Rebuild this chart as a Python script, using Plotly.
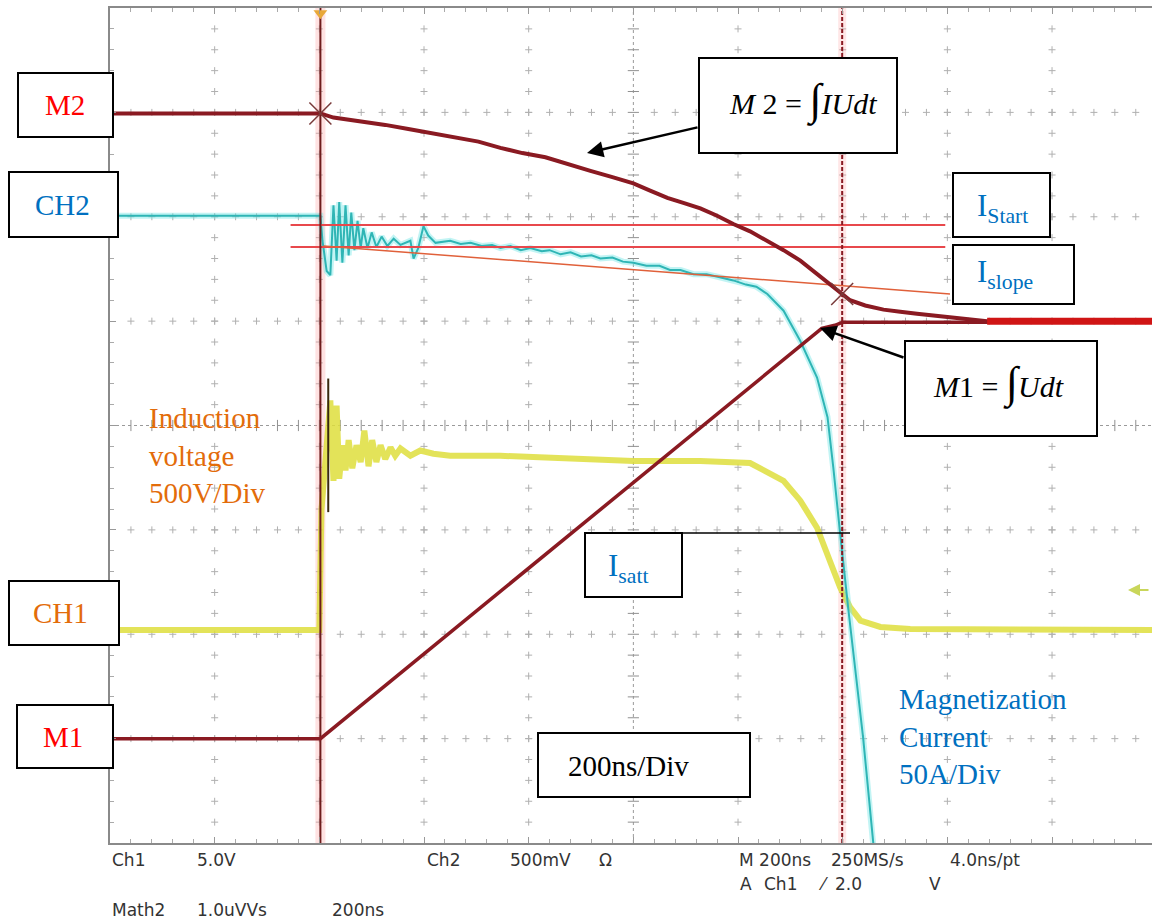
import plotly.graph_objects as go

# Oscilloscope screen: time in ns (200 ns/div), vertical in screen divisions
t_range = [-1000, 991]
v_range = [-4, 4]

trigger_t = -598
cursor_t = 399

# CH1 - induction voltage (yellow)
ch1_t = [-1000, -600, -596, -579, -573, -567, -562, -556, -550, -544,
         -537, -529, -521, -514, -506, -499, -491, -483, -474, -464,
         -455, -445, -426, -407, -382, -350, -254, -159, -63, 0,
         128, 223, 287, 319, 351, 382, 395, 414, 434, 472,
         529, 991]
ch1_v = [-1.96, -1.96, -0.81, 0.24, -0.53, 0.19, -0.51, -0.19, -0.43, -0.14,
         -0.41, -0.19, -0.35, -0.05, -0.39, -0.14, -0.35, -0.19, -0.32, -0.21,
         -0.29, -0.22, -0.29, -0.24, -0.27, -0.29, -0.29, -0.31, -0.32, -0.34,
         -0.34, -0.36, -0.53, -0.72, -0.98, -1.36, -1.55, -1.74, -1.87, -1.93,
         -1.95, -1.96]
ch1_edge_t = [-583, -583]
ch1_edge_v = [-0.83, 0.45]

# CH2 - magnetization current (cyan)
ch2_t = [-1000, -598, -594, -586, -579, -573, -567, -562, -556, -550,
         -544, -539, -533, -527, -521, -516, -508, -500, -491, -481,
         -470, -458, -445, -426, -420, -411, -401, -392, -378, -350,
         -330, -311, -290, -270, -254, -235, -215, -197, -175, -160,
         -139, -120, -100, -80, -63, -40, -20, 0, 25, 50,
         70, 90, 115, 140, 165, 191, 215, 235, 256, 287,
         319, 351, 371, 382, 395, 411, 439, 458, 470]
ch2_v = [2.01, 2.01, 1.77, 1.48, 1.44, 2.11, 1.58, 2.14, 1.56, 2.11,
         1.63, 2.04, 1.68, 1.96, 1.70, 1.89, 1.70, 1.85, 1.71, 1.81,
         1.72, 1.79, 1.73, 1.77, 1.60, 1.70, 1.91, 1.82, 1.75, 1.77,
         1.74, 1.75, 1.72, 1.73, 1.70, 1.72, 1.68, 1.70, 1.67, 1.68,
         1.64, 1.66, 1.62, 1.63, 1.60, 1.61, 1.57, 1.56, 1.53, 1.53,
         1.49, 1.49, 1.45, 1.45, 1.42, 1.39, 1.35, 1.33, 1.26, 1.10,
         0.81, 0.46, 0.08, -0.40, -1.03, -1.77, -2.99, -4.0, -4.6]

# Math traces
m1_t = [-1000, -598, 360, 385, 400, 991]
m1_v = [-3.0, -3.0, 0.93, 0.96, 0.99, 0.99]

m2_t = [-1000, -598, -573, -525, -474, -430, -384, -338, -296, -254,
        -212, -168, -124, -82, -40, 0, 32, 65, 97, 128,
        160, 191, 223, 256, 287, 319, 334, 351, 367, 384,
        399, 414, 443, 478, 510, 542, 676, 991]
m2_v = [2.99, 2.99, 2.95, 2.92, 2.88, 2.84, 2.80, 2.76, 2.72, 2.66,
        2.61, 2.57, 2.50, 2.44, 2.38, 2.32, 2.25, 2.18, 2.13, 2.08,
        2.01, 1.93, 1.86, 1.77, 1.68, 1.58, 1.52, 1.45, 1.39, 1.33,
        1.26, 1.20, 1.15, 1.11, 1.09, 1.07, 1.00, 1.00]
m_merge_t = [676, 991]
m_merge_v = [1.0, 1.0]

# Current cursors
istart_t = [-655, 596]
istart_v = [1.92, 1.92]
iref_t = [-655, 596]
iref_v = [1.71, 1.71]
islope_t = [-592, 605]
islope_v = [1.72, 1.26]
cross_t = [-598, 399]
cross_v = [2.99, 1.26]

DARK_RED = "#8a1a22"

fig = go.Figure()

# ---- graticule ----
major_t = [-800, -600, -400, -200, 200, 400, 600, 800]
major_v = [-3, -2, -1, 1, 2, 3]
minor_t = [k * 40 for k in range(-24, 25) if k != 0]
minor_v = [round(k * 0.2, 2) for k in range(-19, 20) if k != 0]

gx, gy = [], []
for t in major_t:
    for v in minor_v:
        gx.append(t)
        gy.append(v)
for v in major_v:
    for t in minor_t:
        gx.append(t)
        gy.append(v)
fig.add_trace(go.Scatter(x=gx, y=gy, mode="markers", hoverinfo="skip",
                         marker=dict(symbol="cross-thin", size=5, color="#b0b0b0",
                                     line=dict(width=1, color="#b0b0b0"))))
fig.add_trace(go.Scatter(x=minor_t, y=[0] * len(minor_t), mode="markers", hoverinfo="skip",
                         marker=dict(symbol="line-ns", size=8,
                                     line=dict(width=1, color="#909090"))))
fig.add_trace(go.Scatter(x=[0] * len(minor_v), y=minor_v, mode="markers", hoverinfo="skip",
                         marker=dict(symbol="line-ew", size=8,
                                     line=dict(width=1, color="#909090"))))

# ---- traces ----
fig.add_trace(go.Scatter(x=[trigger_t, trigger_t], y=v_range, mode="lines",
                         line=dict(color="rgba(255,160,160,0.30)", width=10), hoverinfo="skip"))
fig.add_trace(go.Scatter(x=[cursor_t, cursor_t], y=v_range, mode="lines",
                         line=dict(color="rgba(255,160,160,0.25)", width=8), hoverinfo="skip"))

fig.add_trace(go.Scatter(x=ch1_t, y=ch1_v, mode="lines",
                         line=dict(color="rgba(222,222,60,0.85)", width=6)))
fig.add_trace(go.Scatter(x=ch1_edge_t, y=ch1_edge_v, mode="lines",
                         line=dict(color="#3a2a10", width=2)))

fig.add_trace(go.Scatter(x=ch2_t, y=ch2_v, mode="lines",
                         line=dict(color="rgba(120,230,230,0.45)", width=6), hoverinfo="skip"))
fig.add_trace(go.Scatter(x=ch2_t, y=ch2_v, mode="lines",
                         line=dict(color="#2fb5b5", width=2)))

fig.add_trace(go.Scatter(x=istart_t, y=istart_v, mode="lines",
                         line=dict(color="#e8484c", width=2)))
fig.add_trace(go.Scatter(x=iref_t, y=iref_v, mode="lines",
                         line=dict(color="#e8484c", width=2)))
fig.add_trace(go.Scatter(x=islope_t, y=islope_v, mode="lines",
                         line=dict(color="#e0603a", width=1.5)))

fig.add_trace(go.Scatter(x=[trigger_t, trigger_t], y=v_range, mode="lines",
                         line=dict(color="#6e1c1c", width=2)))
fig.add_trace(go.Scatter(x=[cursor_t, cursor_t], y=v_range, mode="lines",
                         line=dict(color=DARK_RED, width=2, dash="4px,2px")))

fig.add_trace(go.Scatter(x=m1_t, y=m1_v, mode="lines",
                         line=dict(color=DARK_RED, width=3.5)))
fig.add_trace(go.Scatter(x=m2_t, y=m2_v, mode="lines",
                         line=dict(color=DARK_RED, width=4)))
fig.add_trace(go.Scatter(x=m_merge_t, y=m_merge_v, mode="lines",
                         line=dict(color="#d01515", width=7)))

fig.add_trace(go.Scatter(x=cross_t, y=cross_v, mode="markers",
                         marker=dict(symbol="x-thin", size=22,
                                     line=dict(width=1.5, color="#7a3a3a"))))

# trigger position marker on top edge
fig.add_trace(go.Scatter(x=[trigger_t], y=[3.95], mode="markers", cliponaxis=False,
                         marker=dict(symbol="triangle-down", size=12, color="#e8a838")))

# ---- layout helpers (pixel -> paper) ----
PX_L, PX_T, PX_W, PX_H = 110, 8, 1042, 835


def px(x):
    return (x - PX_L) / PX_W


def py(y):
    return 1 - (y - PX_T) / PX_H


shapes = []
boxes = [
    (18, 73, 113, 137), (9, 172, 118, 237), (9, 581, 119, 645), (17, 705, 113, 768),
    (699, 58, 897, 153), (953, 173, 1050, 237), (953, 245, 1074, 304),
    (905, 341, 1097, 436), (585, 533, 682, 597), (538, 733, 750, 797),
]
for x0, y0, x1, y1 in boxes:
    shapes.append(dict(type="rect", xref="paper", yref="paper",
                       x0=px(x0), x1=px(x1), y0=py(y1), y1=py(y0),
                       line=dict(color="black", width=2), fillcolor="white", layer="above"))
# I_satt level line
shapes.append(dict(type="line", xref="paper", yref="paper",
                   x0=px(682), x1=px(850), y0=py(533), y1=py(533),
                   line=dict(color="black", width=1.5), layer="above"))
# dotted centre lines
shapes.append(dict(type="line", xref="x", yref="paper", x0=0, x1=0, y0=0, y1=1,
                   line=dict(color="#9a9a9a", width=1, dash="dot"), layer="below"))
shapes.append(dict(type="line", xref="paper", yref="y", x0=0, x1=1, y0=0, y1=0,
                   line=dict(color="#9a9a9a", width=1, dash="dot"), layer="below"))

SERIF = "Liberation Serif, Times New Roman, serif"
RED = "#ff0000"
BLUE = "#0070c0"
ORANGE = "#e36c0a"

annotations = []


def label(text, x, y, color, size=29, xanchor="center", align="center", family=SERIF):
    annotations.append(dict(text=text, xref="paper", yref="paper", x=px(x), y=py(y),
                            xanchor=xanchor, yanchor="middle", align=align, showarrow=False,
                            font=dict(family=family, size=size, color=color)))


label("M2", 65, 105, RED)
label("CH2", 62, 205, BLUE)
label("CH1", 60, 613, ORANGE)
label("M1", 63, 737, RED)
label("Induction<br>voltage<br>500V/Div", 147, 455, ORANGE, xanchor="left", align="left")
label("Magnetization<br>Current<br>50A/Div", 897, 736, BLUE, xanchor="left", align="left")
label("200ns/Div", 566, 766, "black", xanchor="left")
label("I<sub>Start</sub>", 975, 208, BLUE, size=31, xanchor="left")
label("I<sub>slope</sub>", 975, 274, BLUE, size=31, xanchor="left")
label("I<sub>satt</sub>", 606, 568, BLUE, size=31, xanchor="left")
label("<i>M</i> 2 = <span style='font-size:44px'>∫</span><i>IUdt</i>", 803, 100, "black", size=30)
label("<i>M</i>1 = <span style='font-size:44px'>∫</span><i>Udt</i>", 998, 383, "black", size=30)

# arrows pointing at the math traces
annotations.append(dict(x=px(587), y=py(153), xref="paper", yref="paper", text="",
                        showarrow=True, ax=699 - 587, ay=127 - 153, arrowhead=2,
                        arrowsize=1.3, arrowwidth=2.5, arrowcolor="black", standoff=0))
annotations.append(dict(x=px(820), y=py(328), xref="paper", yref="paper", text="",
                        showarrow=True, ax=905 - 820, ay=358 - 328, arrowhead=2,
                        arrowsize=1.3, arrowwidth=2.5, arrowcolor="black", standoff=0))
# CH1 trigger level marker on right edge
annotations.append(dict(x=px(1128), y=py(590), xref="paper", yref="paper", text="",
                        showarrow=True, ax=22, ay=0, arrowhead=2, arrowsize=1.2,
                        arrowwidth=2, arrowcolor="#c9d65a", standoff=0))

# scope readout
MONO = "DejaVu Sans, Verdana, sans-serif"
readout = [
    ("Ch1", 110, 860), ("5.0V", 195, 860), ("Ch2", 425, 860), ("500mV", 508, 860),
    ("Ω", 597, 860), ("M 200ns", 737, 860), ("250MS/s", 829, 860), ("4.0ns/pt", 948, 860),
    ("A", 738, 884), ("Ch1", 762, 884), ("⁄", 816, 884), ("2.0", 833, 884), ("V", 927, 884),
    ("Math2", 110, 910), ("1.0uVVs", 195, 910), ("200ns", 330, 910),
]
for txt, x, y in readout:
    label(txt, x, y, "#333333", size=17, xanchor="left", family=MONO)

fig.update_layout(
    width=1152, height=920, autosize=False,
    margin=dict(l=PX_L, r=0, t=PX_T, b=920 - PX_T - PX_H),
    paper_bgcolor="white", plot_bgcolor="white",
    showlegend=False,
    shapes=shapes, annotations=annotations,
    xaxis=dict(range=t_range, showgrid=False, zeroline=False, showticklabels=False,
               showline=True, linecolor="#8a8a8a", linewidth=2, mirror="ticks",
               ticks="inside", tickvals=[-800, -600, -400, -200, 0, 200, 400, 600, 800],
               ticklen=6, tickcolor="#999999",
               minor=dict(dtick=40, tick0=0, ticks="inside", ticklen=4,
                          tickcolor="#aaaaaa", showgrid=False)),
    yaxis=dict(range=v_range, showgrid=False, zeroline=False, showticklabels=False,
               showline=True, linecolor="#8a8a8a", linewidth=2,
               ticks="inside", tickvals=[-3, -2, -1, 0, 1, 2, 3],
               ticklen=6, tickcolor="#999999",
               minor=dict(dtick=0.2, tick0=0, ticks="inside", ticklen=4,
                          tickcolor="#aaaaaa", showgrid=False)),
)

fig.write_html("out.html")
